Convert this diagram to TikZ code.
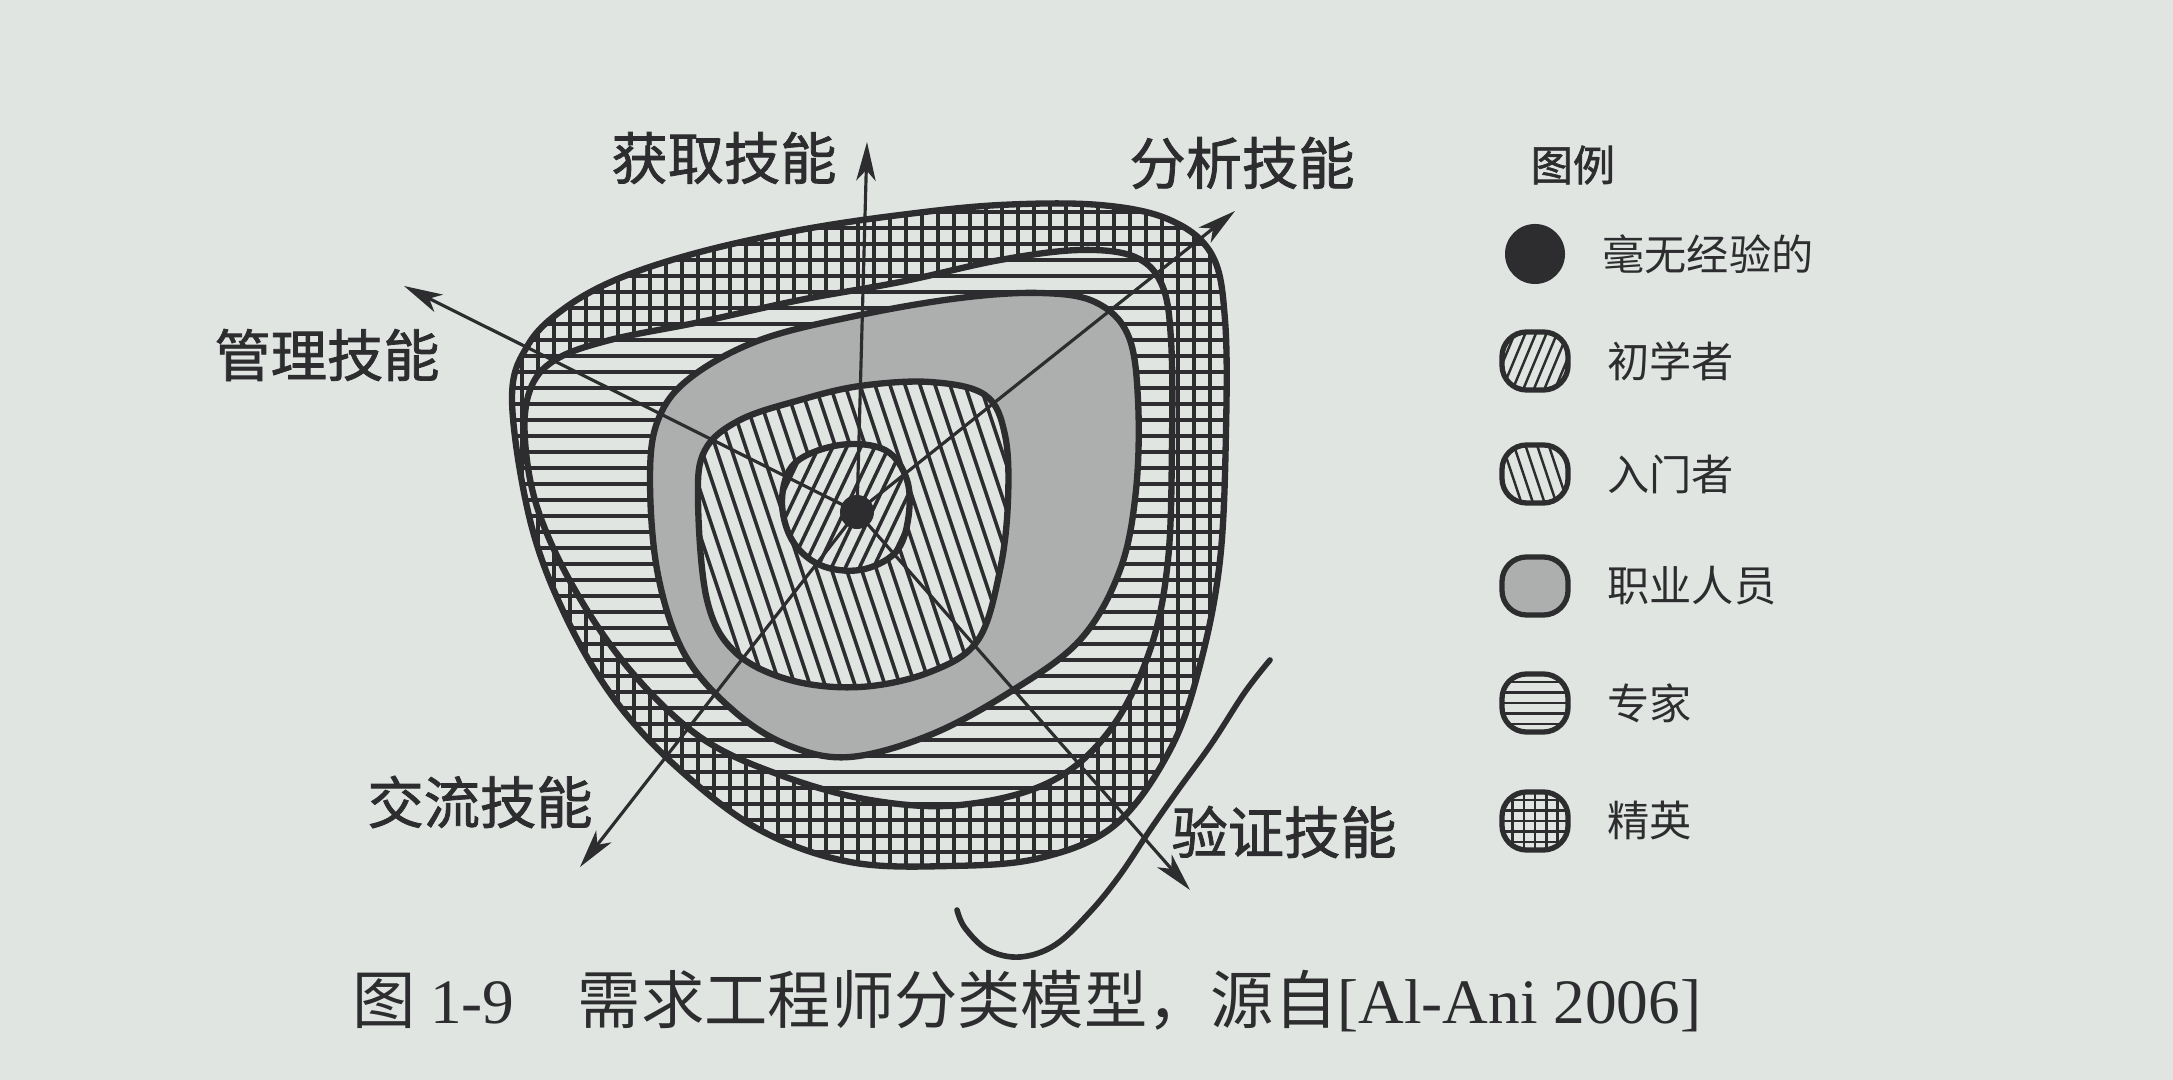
\documentclass[tikz,border=0pt]{standalone}
\usepackage{fontspec}
\setmainfont{Noto Sans CJK SC}
\newfontfamily\lblfont[FakeBold=1.4]{Noto Sans CJK SC}
\newfontfamily\latinserif{Liberation Serif}
\usetikzlibrary{positioning,arrows.meta}

\definecolor{paper}{RGB}{224,229,226}
\definecolor{ink}{RGB}{45,45,47}
\definecolor{proGray}{RGB}{172,175,173}

% outlines of the five skill levels (pixel units, y downwards)
\newcommand\eliteBlob{plot[smooth cycle, tension=0.6] coordinates {(512,400) (528,345) (565,308) (620,278) (700,252) (800,230) (900,215) (1000,205) (1100,205) (1170,220) (1212,255) (1225,320) (1226,430) (1220,560) (1200,665) (1170,750) (1115,825) (1040,858) (950,866) (850,862) (760,830) (680,770) (615,700) (565,615) (530,520)}}
\newcommand\expertBlob{plot[smooth cycle, tension=0.6] coordinates {(525,440) (530,390) (555,360) (610,340) (700,322) (800,300) (900,282) (1000,260) (1080,250) (1135,257) (1162,285) (1171,340) (1172,440) (1168,560) (1150,650) (1110,730) (1050,782) (960,805) (870,800) (780,775) (700,737) (630,670) (575,590) (538,510)}}
\newcommand\proBlob{plot[smooth cycle, tension=0.6] coordinates {(650,480) (658,420) (690,378) (760,340) (860,315) (960,298) (1040,293) (1095,302) (1128,335) (1138,400) (1136,490) (1120,570) (1080,640) (1010,692) (930,735) (850,757) (790,746) (735,712) (685,655) (658,575)}}
\newcommand\introBlob{plot[smooth cycle, tension=0.6] coordinates {(698,500) (705,450) (740,420) (800,400) (860,386) (930,382) (985,395) (1005,435) (1008,500) (1000,570) (978,640) (930,672) (860,687) (790,680) (735,652) (707,600)}}
\newcommand\novBlob{plot[smooth cycle, tension=0.6] coordinates {(782,500) (795,463) (840,445) (885,450) (907,480) (908,520) (895,553) (860,570) (820,565) (792,540)}}

\begin{document}
\begin{tikzpicture}[x=0.01cm, y=-0.01cm,
    zone/.style={draw=ink, line width=1.8pt},
    hatch/.style={draw=ink, line width=1pt},
    axisarr/.style={draw=ink, line width=0.9pt, -{Stealth[length=11pt, width=5.5pt, inset=3pt]}},
    pen/.style={draw=ink, line width=1.6pt, line cap=round},
    lbl/.style={font=\fontsize{16pt}{19pt}\lblfont, text=ink, inner sep=0pt},
    capt/.style={font=\fontsize{18pt}{21pt}\selectfont, text=ink, inner sep=0pt},
    legtxt/.style={font=\fontsize{12pt}{14pt}\selectfont, text=ink, inner sep=0pt, anchor=west},
    legdot/.style={circle, fill=ink, inner sep=0pt},
    legsym/.style={draw=ink, line width=1.5pt, rounded corners=7pt, fill=paper,
                   minimum width=0.66cm, minimum height=0.58cm, inner sep=0pt},
    legHor/.style={path picture={\foreach \k in {-4,...,4}
        \draw[hatch, line width=0.7pt] ([yshift=\k*3pt]path picture bounding box.west) -- ([yshift=\k*3pt]path picture bounding box.east);}},
    legGrid/.style={path picture={\foreach \k in {-4,...,4} {
        \draw[hatch, line width=0.7pt] ([yshift=\k*3pt]path picture bounding box.west) -- ([yshift=\k*3pt]path picture bounding box.east);
        \draw[hatch, line width=0.7pt] ([xshift=\k*3.2pt]path picture bounding box.south) -- ([xshift=\k*3.2pt]path picture bounding box.north);}}},
    legNov/.style={path picture={\foreach \k in {-7,...,7}
        \draw[hatch, line width=0.7pt] ([xshift=\k*3pt]path picture bounding box.center) +(-5pt,-12pt) -- +(5pt,12pt);}},
    legIntro/.style={path picture={\foreach \k in {-7,...,7}
        \draw[hatch, line width=0.7pt] ([xshift=\k*3.3pt]path picture bounding box.center) +(-4pt,12pt) -- +(4pt,-12pt);}}
  ]
  \path[use as bounding box, fill=paper] (0,0) rectangle (2173,1080);

  % elite: grid
  \begin{scope}
    \clip \eliteBlob;
    \foreach \y in {196,212,...,876} \draw[hatch] (500,\y) -- (1240,\y);
    \foreach \x in {506,522,...,1234} \draw[hatch] (\x,195) -- (\x,880);
  \end{scope}
  \draw[zone] \eliteBlob;

  % expert: horizontal lines
  \fill[paper] \expertBlob;
  \begin{scope}
    \clip \expertBlob;
    \foreach \y in {196,212,...,876} \draw[hatch] (500,\y) -- (1240,\y);
  \end{scope}
  \draw[zone] \expertBlob;

  % professional: grey
  \draw[zone, fill=proGray] \proBlob;

  % intro level
  \fill[paper] \introBlob;
  \begin{scope}
    \clip \introBlob;
    \foreach \x in {585,600,...,1010} \draw[hatch] (\x,370) -- ++(110,330);
  \end{scope}
  \draw[zone] \introBlob;

  % novice
  \fill[paper] \novBlob;
  \begin{scope}
    \clip \novBlob;
    \foreach \x in {690,704,...,912} \draw[hatch] (\x,600) -- ++(100,-210);
  \end{scope}
  \draw[zone] \novBlob;

  % skill axes
  \coordinate (ctr) at (857,512);
  \coordinate (tAcq) at (867,142);
  \coordinate (tAna) at (1235,211);
  \coordinate (tMgt) at (404,286);
  \coordinate (tCom) at (580,867);
  \coordinate (tVer) at (1190,890);
  \foreach \t in {tAcq,tAna,tMgt,tCom,tVer}
    \draw[axisarr] (ctr) -- (\t);
  \node[legdot, minimum size=0.34cm] (dot) at (ctr) {};

  \node[lbl] (lAcq) at (724,158) {获取技能};
  \node[lbl] (lAna) at (1242,163) {分析技能};
  \node[lbl] (lMgt) at (327,355) {管理技能};
  \node[lbl] (lCom) at (480,802) {交流技能};
  \node[lbl] (lVer) at (1284,832) {验证技能};

  % pen stroke on the page
  \draw[pen] plot[smooth, tension=0.6] coordinates {(1270,660) (1245,692) (1212,743) (1178,790) (1150,830) (1120,875) (1090,912) (1055,945) (1020,957) (988,950) (965,928) (957,910)};

  % legend
  \node[legtxt, font=\fontsize{12pt}{14pt}\lblfont] (legT) at (1530,165) {图例};
  \node[legdot, minimum size=0.6cm] (sNone) at (1535,254) {};
  \node[legsym, legNov] (sNov) at (1535,361) {};
  \node[legsym, legIntro] (sIntro) at (1535,474) {};
  \node[legsym, fill=proGray] (sPro) at (1535,586) {};
  \node[legsym, legHor] (sExp) at (1535,703) {};
  \node[legsym, legGrid] (sElite) at (1535,821) {};
  \node[legtxt, right=0.36cm of sNone] (tNone) {毫无经验的};
  \node[legtxt, right=0.36cm of sNov] (tNov) {初学者};
  \node[legtxt, right=0.36cm of sIntro] (tIntro) {入门者};
  \node[legtxt, right=0.36cm of sPro] (tPro) {职业人员};
  \node[legtxt, right=0.36cm of sExp] (tExp) {专家};
  \node[legtxt, right=0.36cm of sElite] (tElite) {精英};

  \node[capt] (cap) at (1027,1001) {图 {\latinserif 1-9}\quad 需求工程师分类模型，源自{\latinserif [Al-Ani 2006]}};
\end{tikzpicture}
\end{document}
